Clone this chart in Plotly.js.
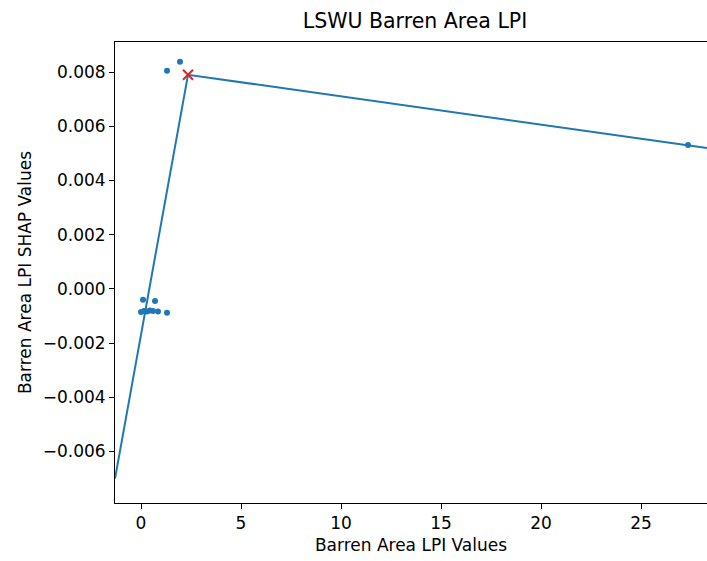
<!DOCTYPE html>
<html>
<head>
<meta charset="utf-8">
<script src="https://cdn.plot.ly/plotly-3.0.1.min.js"></script>
<style>
  html, body { margin: 0; padding: 0; background: #ffffff; }
  #chart { width: 707px; height: 561px; }
</style>
</head>
<body>
<div id="chart"></div>
<script>
// Observed samples: Barren Area LPI value vs. its SHAP contribution
const lpiValues = [1.3, 1.95, 27.35, 0.1, 0.7, 0.0, 0.15, 0.3, 0.45, 0.6, 0.85, 1.3];
const shapValues = [0.00805, 0.00838, 0.00531, -0.00040, -0.00045, -0.00085, -0.00082, -0.00083, -0.00080, -0.00082, -0.00083, -0.00088];

// Piecewise-linear fit through the breakpoint
const fitX = [-1.3, 2.35, 28.3];
const fitY = [-0.0070, 0.0079, 0.0052];

// Breakpoint of the fit
const breakX = [2.35];
const breakY = [0.0079];

const yTicks = [-0.006, -0.004, -0.002, 0.000, 0.002, 0.004, 0.006, 0.008];
const yTickLabels = ['\u22120.006', '\u22120.004', '\u22120.002', '0.000', '0.002', '0.004', '0.006', '0.008'];
const xTicks = [0, 5, 10, 15, 20, 25];

const blue = '#1f77b4';
const red = '#d62728';
const fontFamily = '"DejaVu Sans", Verdana, sans-serif';

const traces = [
  {
    x: lpiValues, y: shapValues, type: 'scatter', mode: 'markers',
    marker: { color: blue, size: 6 },
    hoverinfo: 'skip', showlegend: false
  },
  {
    x: fitX, y: fitY, type: 'scatter', mode: 'lines',
    line: { color: blue, width: 2 },
    hoverinfo: 'skip', showlegend: false
  },
  {
    x: breakX, y: breakY, type: 'scatter', mode: 'markers',
    marker: { color: red, size: 10, symbol: 'x-thin', line: { color: red, width: 2 } },
    hoverinfo: 'skip', showlegend: false
  }
];

const axisCommon = {
  showgrid: false, zeroline: false,
  showline: true, linecolor: '#000000', linewidth: 1,
  ticks: 'outside', ticklen: 5, tickwidth: 1, tickcolor: '#000000',
  tickfont: { family: fontFamily, size: 17, color: '#000000' }
};

const layout = {
  width: 707, height: 561,
  margin: { l: 115, r: 0, t: 42, b: 58, pad: 0 },
  paper_bgcolor: '#ffffff', plot_bgcolor: '#ffffff',
  font: { family: fontFamily, color: '#000000' },
  title: {
    text: 'LSWU Barren Area LPI',
    font: { family: fontFamily, size: 20.5, color: '#000000' },
    x: 0.587, xanchor: 'center', y: 0.962, yanchor: 'middle'
  },
  xaxis: Object.assign({}, axisCommon, {
    range: [-1.3, 28.3], mirror: true,
    tickmode: 'array', tickvals: xTicks, ticktext: xTicks.map(String),
    title: { text: 'Barren Area LPI Values', font: { family: fontFamily, size: 17, color: '#000000' }, standoff: 6 }
  }),
  yaxis: Object.assign({}, axisCommon, {
    range: [-0.0079, 0.00911],
    tickmode: 'array', tickvals: yTicks, ticktext: yTickLabels,
    title: { text: 'Barren Area LPI SHAP Values', font: { family: fontFamily, size: 17, color: '#000000' }, standoff: 6 }
  })
};

Plotly.newPlot('chart', traces, layout, { displayModeBar: false, staticPlot: true });
</script>
</body>
</html>
